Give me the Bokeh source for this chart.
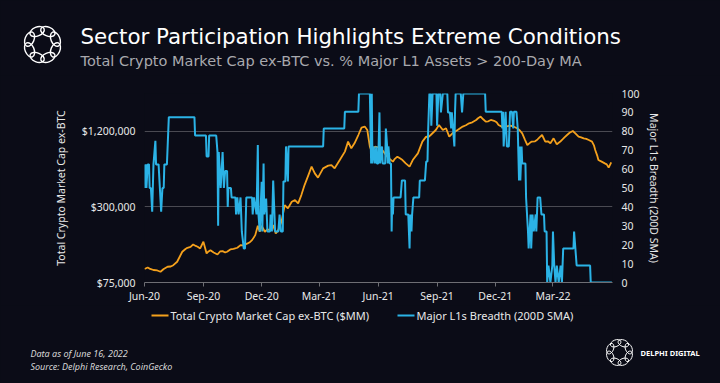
import numpy as np
import pandas as pd
from bokeh.plotting import figure
from bokeh.layouts import column
from bokeh.models import (Range1d, LinearAxis, FixedTicker, NumeralTickFormatter,
                          DatetimeTickFormatter, ColumnDataSource, LinearScale)
from bokeh.core.properties import value
from bokeh.embed import file_html
from bokeh.resources import INLINE

# ---------------- data ----------------
title = "Sector Participation Highlights Extreme Conditions"
subtitle = "Total Crypto Market Cap ex-BTC vs. % Major L1 Assets > 200-Day MA"
series_orange = "Total Crypto Market Cap ex-BTC ($MM)"
series_blue = "Major L1s Breadth (200D SMA)"
left_axis_label = "Total Crypto Market Cap ex-BTC"
right_axis_label = "Major L1s Breadth (200D SMA)"
footer_lines = ["Data as of June 16, 2022", "Source: Delphi Research,  CoinGecko"]
brand = "DELPHI DIGITAL"

x_start, x_end = "2020-06-16", "2022-06-17"
x_ticks = ["2020-06-16", "2020-09-16", "2020-12-16", "2021-03-16",
           "2021-06-16", "2021-09-16", "2021-12-16", "2022-03-16"]
left_ticks = [75000, 300000, 1200000]
left_min, left_max = 75000, 2400000
right_ticks = [0, 10, 20, 30, 40, 50, 60, 70, 80, 90, 100]

orange_dates = [
    "2020-06-16", "2020-06-21", "2020-06-25", "2020-06-30", "2020-07-06", "2020-07-11",
    "2020-07-16", "2020-07-22", "2020-07-27", "2020-07-31", "2020-08-06", "2020-08-11",
    "2020-08-14", "2020-08-19", "2020-08-22", "2020-08-27", "2020-08-31", "2020-09-04",
    "2020-09-07", "2020-09-11", "2020-09-16", "2020-09-21", "2020-09-24", "2020-09-27",
    "2020-10-02", "2020-10-08", "2020-10-12", "2020-10-16", "2020-10-20", "2020-10-23",
    "2020-10-28", "2020-11-02", "2020-11-08", "2020-11-13", "2020-11-17", "2020-11-24",
    "2020-11-28", "2020-12-01", "2020-12-06", "2020-12-10", "2020-12-13", "2020-12-16",
    "2020-12-21", "2020-12-25", "2020-12-29", "2021-01-03", "2021-01-07", "2021-01-11",
    "2021-01-16", "2021-01-21", "2021-01-26", "2021-02-01", "2021-02-06", "2021-02-11",
    "2021-02-16", "2021-02-21", "2021-02-27", "2021-03-04", "2021-03-09", "2021-03-14",
    "2021-03-22", "2021-03-30", "2021-04-04", "2021-04-09", "2021-04-17", "2021-04-25",
    "2021-04-30", "2021-05-05", "2021-05-10", "2021-05-16", "2021-05-21", "2021-05-26",
    "2021-05-30", "2021-06-03", "2021-06-06", "2021-06-11", "2021-06-16", "2021-06-20",
    "2021-06-24", "2021-06-28", "2021-07-03", "2021-07-09", "2021-07-12", "2021-07-16",
    "2021-07-20", "2021-07-24", "2021-07-29", "2021-08-04", "2021-08-09", "2021-08-17",
    "2021-08-24", "2021-08-30", "2021-09-02", "2021-09-06", "2021-09-14", "2021-09-19",
    "2021-09-25", "2021-09-30", "2021-10-05", "2021-10-10", "2021-10-18", "2021-10-26",
    "2021-10-31", "2021-11-05", "2021-11-10", "2021-11-16", "2021-11-19", "2021-11-23",
    "2021-11-27", "2021-12-01", "2021-12-05", "2021-12-09", "2021-12-14", "2021-12-18",
    "2021-12-21", "2021-12-29", "2022-01-03", "2022-01-09", "2022-01-14", "2022-01-19",
    "2022-01-23", "2022-01-27", "2022-01-31", "2022-02-04", "2022-02-08", "2022-02-11",
    "2022-02-16", "2022-02-19", "2022-02-23", "2022-02-27", "2022-03-04", "2022-03-08",
    "2022-03-12", "2022-03-17", "2022-03-22", "2022-03-27", "2022-03-30", "2022-04-03",
    "2022-04-07", "2022-04-11", "2022-04-16", "2022-04-20", "2022-04-25", "2022-04-29",
    "2022-05-03", "2022-05-07", "2022-05-11", "2022-05-16", "2022-05-19", "2022-05-21",
    "2022-05-24", "2022-05-26", "2022-05-31", "2022-06-05", "2022-06-08", "2022-06-11",
    "2022-06-15"]
orange_values = [
    96100, 98800, 96100, 94300, 93500, 91300,
    96100, 100100, 100600, 103000, 109700, 123100,
    131800, 138700, 141800, 143900, 150700, 146600,
    144500, 140000, 158400, 127700, 132500, 135700,
    130100, 125400, 132500, 133200, 130100, 131800,
    137500, 138700, 141800, 148800, 148000, 153500,
    157800, 163100, 178800, 212400, 190300, 212400,
    190300, 198500, 195900, 214800, 184400, 195900,
    228600, 310100, 291900, 330100, 339900, 319900,
    372600, 447700, 537900, 627700, 555000, 512900,
    608400, 639300, 646400, 608400, 708600, 826700,
    993400, 878300, 962800, 1121200, 1284600, 1308400,
    1229200, 906200, 826700, 906200, 894600, 878300,
    831200, 776600, 731000, 688000, 724300, 754100,
    731000, 708600, 666900, 627700, 708600, 801200,
    993400, 1088800, 1074800, 1121200, 1229200, 1347400,
    1229200, 1268000, 1088800, 1156800, 1229200, 1308400,
    1340000, 1390000, 1415800, 1476900, 1523700, 1572000,
    1496000, 1434200, 1442100, 1476900, 1455400, 1415800,
    1347400, 1284600, 1315700, 1332700, 1303600, 1268000,
    1222400, 1156800, 1036100, 933200, 971700, 993400,
    998900, 1023000, 1074800, 1121200, 993400, 998900,
    962800, 1055300, 945300, 989700, 1023000, 1074800,
    1121200, 1167500, 1206700, 1156800, 1088800, 1074800,
    1055300, 1045600, 1023000, 993400, 928100, 851400,
    772400, 708600, 688000, 666900, 654800, 616300,
    679200]

blue_dates = [
    "2020-06-16", "2020-06-17", "2020-06-18", "2020-06-19", "2020-06-21", "2020-06-23",
    "2020-06-24", "2020-06-26", "2020-06-28", "2020-06-30", "2020-07-03", "2020-07-04",
    "2020-07-08", "2020-07-10", "2020-07-12", "2020-07-14", "2020-07-16", "2020-07-17",
    "2020-07-21", "2020-07-24", "2020-09-02", "2020-09-03", "2020-09-20", "2020-09-21",
    "2020-09-24", "2020-09-25", "2020-10-06", "2020-10-08", "2020-10-09", "2020-10-10",
    "2020-10-13", "2020-10-16", "2020-10-18", "2020-10-20", "2020-10-23", "2020-10-24",
    "2020-10-25", "2020-10-29", "2020-10-30", "2020-11-05", "2020-11-06", "2020-11-08",
    "2020-11-10", "2020-11-13", "2020-11-15", "2020-11-18", "2020-11-20", "2020-11-22",
    "2020-12-01", "2020-12-02", "2020-12-04", "2020-12-08", "2020-12-10", "2020-12-11",
    "2020-12-13", "2020-12-16", "2020-12-17", "2020-12-19", "2020-12-20", "2020-12-23",
    "2020-12-25", "2020-12-29", "2020-12-30", "2021-01-01", "2021-01-03", "2021-01-06",
    "2021-01-11", "2021-01-13", "2021-01-15", "2021-01-18", "2021-01-19", "2021-01-22",
    "2021-01-23", "2021-01-26", "2021-01-27", "2021-03-22", "2021-03-23", "2021-04-24",
    "2021-04-25", "2021-05-16", "2021-05-17", "2021-06-03", "2021-06-05", "2021-06-06",
    "2021-06-07", "2021-06-09", "2021-06-11", "2021-06-13", "2021-06-14", "2021-06-16",
    "2021-06-18", "2021-06-19", "2021-06-22", "2021-06-23", "2021-06-27", "2021-06-28",
    "2021-06-30", "2021-07-01", "2021-07-02", "2021-07-04", "2021-07-06", "2021-07-07",
    "2021-07-08", "2021-07-09", "2021-07-10", "2021-07-21", "2021-07-23", "2021-07-28",
    "2021-07-29", "2021-08-02", "2021-08-03", "2021-08-04", "2021-08-05", "2021-08-07",
    "2021-08-08", "2021-08-10", "2021-08-19", "2021-08-20", "2021-08-28", "2021-08-30",
    "2021-09-01", "2021-09-02", "2021-09-04", "2021-09-06", "2021-09-07", "2021-09-09",
    "2021-09-15", "2021-09-16", "2021-09-18", "2021-09-21", "2021-09-22", "2021-09-25",
    "2021-10-02", "2021-10-03", "2021-10-06", "2021-10-08", "2021-10-09", "2021-10-11",
    "2021-10-13", "2021-10-14", "2021-10-15", "2021-10-23", "2021-10-25", "2021-10-27",
    "2021-11-30", "2021-12-01", "2021-12-26", "2021-12-27", "2021-12-28", "2021-12-29",
    "2022-01-01", "2022-01-02", "2022-01-03", "2022-01-06", "2022-01-08", "2022-01-11",
    "2022-01-13", "2022-01-14", "2022-01-18", "2022-01-20", "2022-01-22", "2022-01-23",
    "2022-01-24", "2022-01-26", "2022-01-27", "2022-02-01", "2022-02-02", "2022-02-05",
    "2022-02-06", "2022-02-09", "2022-02-10", "2022-02-12", "2022-02-14", "2022-02-17",
    "2022-02-18", "2022-02-20", "2022-02-24", "2022-02-26", "2022-03-02", "2022-03-03",
    "2022-03-06", "2022-03-07", "2022-03-09", "2022-03-12", "2022-03-15", "2022-03-16",
    "2022-03-18", "2022-03-20", "2022-03-22", "2022-03-25", "2022-03-28", "2022-03-30",
    "2022-04-01", "2022-04-17", "2022-04-18", "2022-04-20", "2022-04-22", "2022-05-13",
    "2022-05-14", "2022-06-16"]
blue_values = [
    62.5, 50, 62.5, 50, 62.5, 62.5,
    50, 50, 37.5, 62.5, 75, 62.5,
    62.5, 50, 37.5, 50, 50, 62.5,
    62.5, 87.5, 87.5, 77.8, 77.8, 66.7,
    66.7, 77.8, 77.8, 69, 30, 69,
    50, 69, 50, 59, 59, 40,
    50, 50, 45, 45, 36, 45,
    36, 45, 27, 18, 18, 45,
    45, 36, 45, 36, 72.7, 36,
    27, 53.3, 27, 63, 36, 44.4,
    27, 27, 36, 27, 54, 27,
    27, 36, 27, 27, 53.5, 53.5,
    72, 53.5, 72, 72, 81.5, 81.5,
    90.3, 90.3, 100, 100, 63, 100,
    63, 72, 63, 72, 63, 63,
    90, 63, 72, 63, 63, 81.5,
    72, 63, 72, 63, 63, 27,
    45, 36, 45, 45, 54, 54,
    36, 36, 27, 18, 36, 27,
    36, 45, 45, 54, 54, 64,
    64, 80, 100, 100, 83, 100,
    100, 83, 100, 100, 90, 100,
    100, 90, 90, 81.5, 90, 81.5,
    72, 90, 100, 100, 90, 100,
    100, 90.3, 90.3, 81.5, 90.3, 72,
    90.3, 81.5, 72, 72, 90.3, 90.3,
    81.5, 90.3, 90.3, 81.5, 54, 72,
    54, 72, 63, 63, 45, 27,
    18, 36, 18, 36, 27, 36,
    27, 45, 45, 36, 36, 27,
    27, 0, 9, 0, 9, 27,
    9, 0, 9, 0, 9, 0,
    18, 18, 27, 18, 9, 9,
    0, 0]

# ---------------- style / layout ----------------
BG = "#0b0c17"
ORANGE = "#f5a11c"
BLUE = "#2bb3e6"
GRID = "#4a4a52"
TEXT = "#e8e8e8"
FONT = "Noto Sans"
HEAD_FONT = "DejaVu Sans"
W, H = 720, 383
TOP_H = 75                  # header strip (page y 0..75)
MAIN_Y0, MAIN_Y1 = 75, 305  # chart strip
FL, FR, FT, FB = 144, 612, 93, 282   # plot frame edges in page pixels


def strip(y0, y1):
    """A bare figure whose data coordinates equal page pixels (y downward)."""
    f = figure(width=W, height=y1 - y0, x_range=Range1d(0, W), y_range=Range1d(y1, y0),
               output_backend="svg", toolbar_location=None, title=None,
               x_axis_location=None, y_axis_location=None, min_border=0,
               frame_align=False,
               background_fill_color=BG, border_fill_color=BG, outline_line_color=None)
    f.xgrid.visible = False
    f.ygrid.visible = False
    return f


def ring_logo(f, cx, cy, R, a, b, lw, n=8):
    th = np.pi / 8 + 2 * np.pi * np.arange(n) / n
    f.ellipse(x=cx + R * np.cos(th), y=cy + R * np.sin(th), width=2 * a, height=2 * b,
              angle=-(th + np.pi / 2), fill_alpha=0, line_color="#ffffff", line_width=lw)


# header
top = strip(0, TOP_H)
top.text(x=[80], y=[36], text=[title], text_font=value(HEAD_FONT), text_font_size="21.4px",
         text_color="#ffffff", text_baseline="middle")
top.text(x=[80], y=[60], text=[subtitle], text_font=value(HEAD_FONT), text_font_size="14.5px",
         text_color="#a9a9ae", text_baseline="middle")
ring_logo(top, 42, 44, 14, 7.5, 4.5, 1.4)

# main chart
p = figure(width=W, height=MAIN_Y1 - MAIN_Y0, x_axis_type="datetime", y_axis_type="log",
           x_range=Range1d(pd.Timestamp(x_start), pd.Timestamp(x_end)),
           y_range=Range1d(left_min, left_max),
           title=None, output_backend="svg", toolbar_location=None,
           min_border_left=FL, min_border_right=W - FR,
           min_border_top=FT - MAIN_Y0, min_border_bottom=MAIN_Y1 - FB,
           frame_align=False,
           background_fill_color=BG, border_fill_color=BG, outline_line_color=None)
p.extra_y_ranges = {"right": Range1d(0, 100)}
p.extra_y_scales = {"right": LinearScale()}

xa = p.xaxis[0]
xa.ticker = FixedTicker(ticks=[pd.Timestamp(d).value / 1e6 for d in x_ticks])
xa.formatter = DatetimeTickFormatter(days="%b-%y", months="%b-%y", years="%b-%y")
xa.axis_line_color = "#6e6e74"
xa.major_tick_line_color = "#6e6e74"
xa.major_tick_out = 4
xa.major_tick_in = 0
xa.minor_tick_line_color = None
xa.major_label_standoff = 2
xa.major_label_text_color = TEXT
xa.major_label_text_font = FONT
xa.major_label_text_font_size = "10.5px"

ya = p.yaxis[0]
ya.ticker = FixedTicker(ticks=left_ticks)
ya.formatter = NumeralTickFormatter(format="$0,0")
ya.axis_line_color = None
ya.major_tick_line_color = None
ya.minor_tick_line_color = None
ya.major_tick_out = 0
ya.major_tick_in = 0
ya.major_label_standoff = 9
ya.major_label_text_color = TEXT
ya.major_label_text_font = FONT
ya.major_label_text_font_size = "10.5px"
ya.axis_label = left_axis_label
ya.axis_label_text_color = TEXT
ya.axis_label_text_font = FONT
ya.axis_label_text_font_size = "10.5px"
ya.axis_label_text_font_style = "normal"
ya.axis_label_standoff = 11

ra = LinearAxis(y_range_name="right", ticker=FixedTicker(ticks=right_ticks))
ra.axis_line_color = None
ra.major_tick_line_color = None
ra.minor_tick_line_color = None
ra.major_tick_out = 0
ra.major_tick_in = 0
ra.major_label_standoff = 9
ra.major_label_text_color = TEXT
ra.major_label_text_font = FONT
ra.major_label_text_font_size = "10.5px"
ra.axis_label = right_axis_label
ra.axis_label_text_color = TEXT
ra.axis_label_text_font = FONT
ra.axis_label_text_font_size = "10.5px"
ra.axis_label_text_font_style = "normal"
ra.axis_label_standoff = 4
p.add_layout(ra, "right")

p.xgrid.grid_line_color = None
p.ygrid.grid_line_color = GRID
p.ygrid.grid_line_width = 1

src_o = ColumnDataSource(dict(x=pd.to_datetime(orange_dates), y=orange_values))
src_b = ColumnDataSource(dict(x=pd.to_datetime(blue_dates), y=blue_values))
p.line("x", "y", source=src_o, color=ORANGE, line_width=1.8)
p.line("x", "y", source=src_b, color=BLUE, line_width=2, y_range_name="right")

# footer: legend, source notes, brand
bot = strip(MAIN_Y1, H)
bot.segment(x0=[151, 397], y0=[315, 315], x1=[168, 414], y1=[315, 315],
            line_color=[ORANGE, BLUE], line_width=2)
bot.text(x=[170, 416], y=[315, 315], text=[series_orange, series_blue],
         text_font=value(FONT), text_font_size="11px", text_color=TEXT,
         text_baseline="middle")
bot.text(x=[30, 30], y=[353, 366], text=footer_lines, text_font=value(FONT),
         text_font_size="9px", text_font_style="italic", text_color="#d6d6d6",
         text_baseline="middle")
bot.text(x=[640], y=[352], text=[brand], text_font=value(FONT), text_font_size="7.5px",
         text_font_style="bold", text_color="#ffffff", text_baseline="middle")
ring_logo(bot, 619, 352, 10, 5.5, 3.3, 1.0)

p = column(top, p, bot, spacing=0, styles={"background-color": BG})

TEMPLATE = """{% block postamble %}<style>html, body { background: #0b0c17; margin: 0; padding: 0; overflow: hidden; }</style>{% endblock %}"""
open("out.html", "w").write(file_html(p, INLINE, template=TEMPLATE))
